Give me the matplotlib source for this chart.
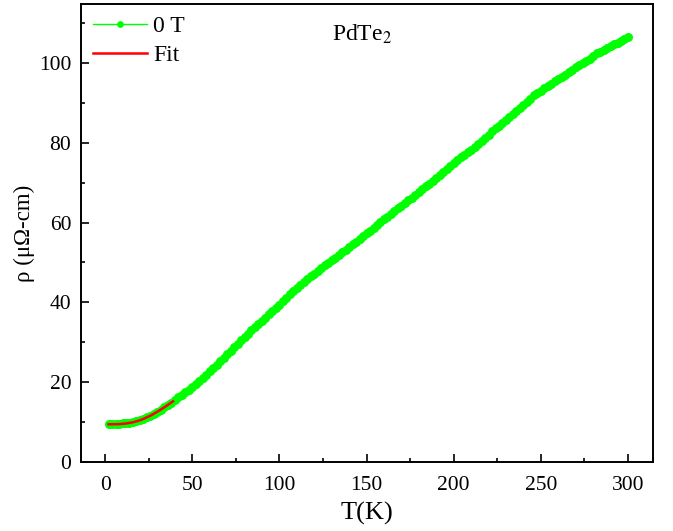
import matplotlib
matplotlib.use("Agg")
import matplotlib.pyplot as plt
from matplotlib.ticker import MultipleLocator

plt.rcParams['font.family'] = ['Liberation Serif', 'DejaVu Serif']
plt.rcParams['mathtext.fontset'] = 'stix'

# Resistivity at zero field (T in K, rho in micro-ohm cm), 2 K steps
temp = list(range(2, 302, 2))
rho = [9.5, 9.5, 9.5, 9.6, 9.65, 9.75, 9.85, 10.0, 10.2, 10.45, 10.8,
       11.2, 11.6, 12.1, 12.6, 13.1, 13.7, 14.3, 14.9, 15.55, 16.2, 16.85,
       17.5, 18.15, 18.8, 19.55, 20.3, 21.1, 21.9, 22.75, 23.6, 24.4, 25.2,
       26.1, 27.0, 27.9, 28.8, 29.65, 30.5, 31.35, 32.2, 33.0, 33.8, 34.6,
       35.4, 36.2, 37.0, 37.8, 38.6, 39.45, 40.3, 41.15, 42.0, 42.85, 43.7,
       44.4, 45.1, 45.8, 46.5, 47.2, 47.9, 48.6, 49.3, 49.95, 50.6, 51.25,
       51.9, 52.55, 53.2, 53.9, 54.6, 55.25, 55.9, 56.6, 57.3, 58.0, 58.7,
       59.4, 60.1, 60.8, 61.5, 62.2, 62.9, 63.55, 64.2, 64.9, 65.6, 66.25,
       66.9, 67.6, 68.3, 69.05, 69.8, 70.55, 71.3, 72.05, 72.8, 73.5, 74.2,
       74.95, 75.7, 76.35, 77.0, 77.65, 78.3, 78.95, 79.6, 80.4, 81.2, 82.05,
       82.9, 83.6, 84.3, 85.05, 85.8, 86.55, 87.3, 88.05, 88.8, 89.55, 90.3,
       91.1, 91.9, 92.5, 93.1, 93.7, 94.3, 94.85, 95.4, 95.95, 96.5, 97.1,
       97.7, 98.35, 99.0, 99.5, 100.0, 100.5, 101.0, 101.7, 102.4, 102.85,
       103.3, 103.75, 104.2, 104.65, 105.1, 105.5, 105.9, 106.5]

# Low temperature fit
fit_temp = [2, 4, 6, 8, 10, 12, 14, 16, 18, 20, 22, 24, 26, 28, 30, 32, 34,
            36, 38, 39]
fit_rho = [9.45, 9.45, 9.47, 9.5, 9.55, 9.65, 9.8, 9.95, 10.2, 10.45, 10.8,
           11.2, 11.6, 12.1, 12.6, 13.15, 13.7, 14.3, 14.9, 15.2]

fig = plt.figure(figsize=(6.73, 5.31), dpi=100)
ax = fig.add_axes([0.1204, 0.130, 0.850, 0.8625])

ax.plot(temp, rho, color='#00ff00', marker='o', markersize=6.5, mew=0, lw=1,
        label='0 T')
ax.plot(fit_temp, fit_rho, color='#ff0000', lw=1.8, label='Fit')

ax.set_xlim(-13.8, 314.4)
ax.set_ylim(0, 114.8)
ax.xaxis.set_major_locator(MultipleLocator(50))
ax.xaxis.set_minor_locator(MultipleLocator(25))
ax.yaxis.set_major_locator(MultipleLocator(20))
ax.yaxis.set_minor_locator(MultipleLocator(10))
ax.tick_params(which='both', direction='in', top=False, right=False,
               labelsize=15.5, width=1.2)
ax.tick_params(which='major', length=6, pad=7)
ax.tick_params(axis='x', which='major', pad=10)
ax.tick_params(which='minor', length=3)
for s in ax.spines.values():
    s.set_linewidth(1.4)

ax.set_xlabel('T(K)', fontsize=19, labelpad=5)
ax.set_ylabel('ρ (μΩ-cm)', fontsize=16.5, labelpad=3)
ax.text(147.5, 107.3, 'PdTe$_2$', fontsize=17, ha='center', va='center')

ax.legend(loc='upper left', frameon=False, fontsize=17, handlelength=2.3,
          handletextpad=0.25, labelspacing=0.3, borderaxespad=0.2,
          borderpad=0.3, markerscale=0.75)

fig.savefig('out.png', dpi=100)
